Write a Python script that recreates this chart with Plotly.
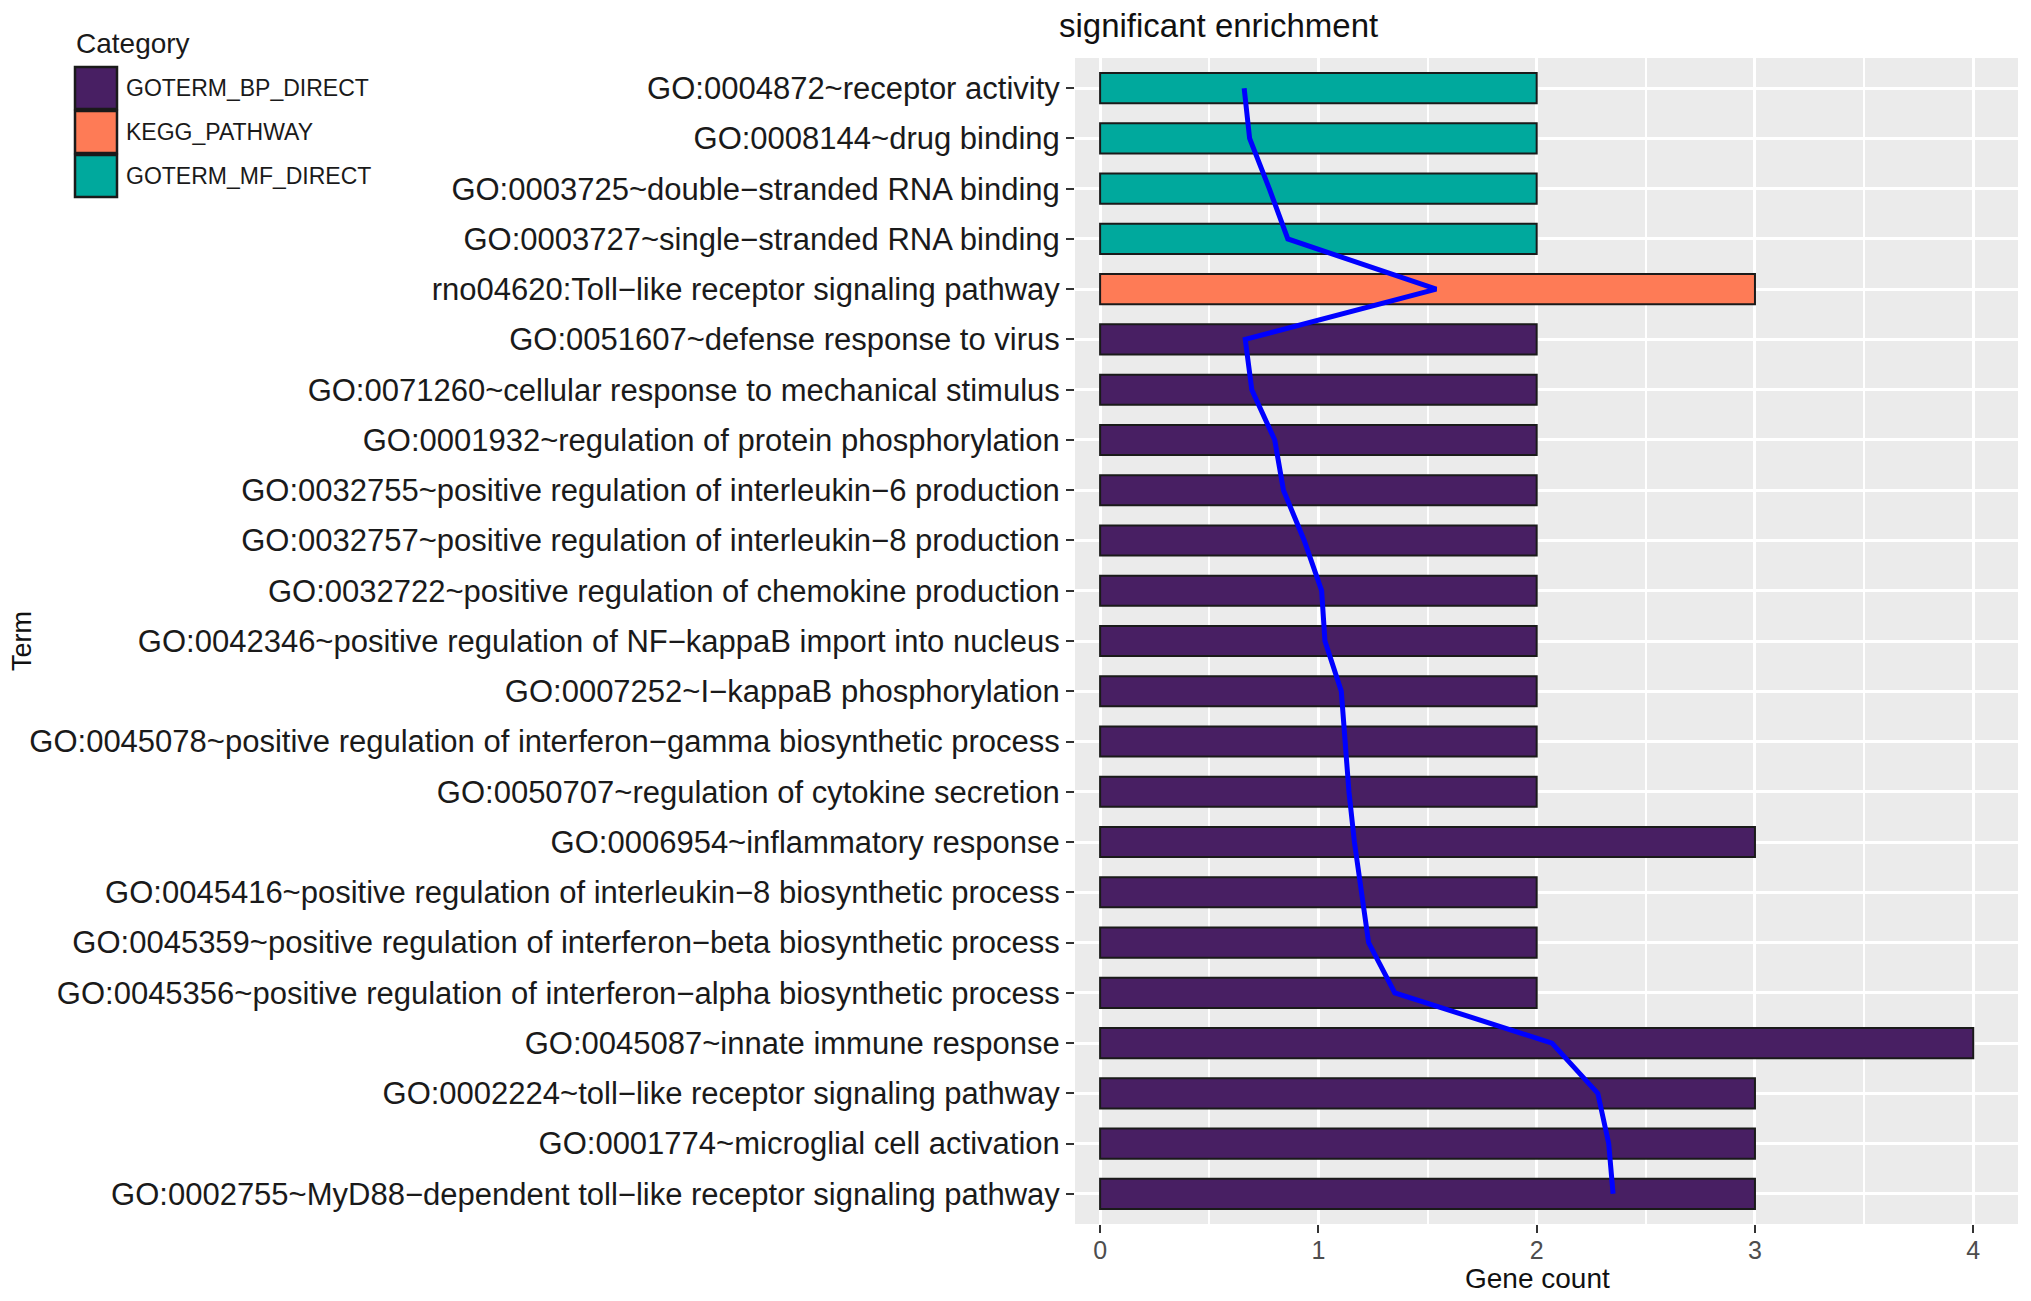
import plotly.graph_objects as go

# ---------------- data ----------------
terms = [
    "GO:0004872~receptor activity",
    "GO:0008144~drug binding",
    "GO:0003725~double−stranded RNA binding",
    "GO:0003727~single−stranded RNA binding",
    "rno04620:Toll−like receptor signaling pathway",
    "GO:0051607~defense response to virus",
    "GO:0071260~cellular response to mechanical stimulus",
    "GO:0001932~regulation of protein phosphorylation",
    "GO:0032755~positive regulation of interleukin−6 production",
    "GO:0032757~positive regulation of interleukin−8 production",
    "GO:0032722~positive regulation of chemokine production",
    "GO:0042346~positive regulation of NF−kappaB import into nucleus",
    "GO:0007252~I−kappaB phosphorylation",
    "GO:0045078~positive regulation of interferon−gamma biosynthetic process",
    "GO:0050707~regulation of cytokine secretion",
    "GO:0006954~inflammatory response",
    "GO:0045416~positive regulation of interleukin−8 biosynthetic process",
    "GO:0045359~positive regulation of interferon−beta biosynthetic process",
    "GO:0045356~positive regulation of interferon−alpha biosynthetic process",
    "GO:0045087~innate immune response",
    "GO:0002224~toll−like receptor signaling pathway",
    "GO:0001774~microglial cell activation",
    "GO:0002755~MyD88−dependent toll−like receptor signaling pathway",
]
categories = (["GOTERM_MF_DIRECT"] * 4 + ["KEGG_PATHWAY"] +
              ["GOTERM_BP_DIRECT"] * 18)
gene_count = [2, 2, 2, 2, 3, 2, 2, 2, 2, 2, 2, 2, 2, 2, 2, 3, 2, 2, 2, 4, 3, 3, 3]
line_values = [0.66, 0.685, 0.775, 0.86, 1.54, 0.665, 0.695, 0.80, 0.84, 0.935,
               1.015, 1.03, 1.105, 1.12, 1.14, 1.165, 1.195, 1.23, 1.35, 2.07,
               2.28, 2.33, 2.35]
legend_order = ["GOTERM_BP_DIRECT", "KEGG_PATHWAY", "GOTERM_MF_DIRECT"]
x_ticks = [0, 1, 2, 3, 4]

# ---------------- style ----------------
colors = {"GOTERM_BP_DIRECT": "#481F63",
          "KEGG_PATHWAY": "#FE7B56",
          "GOTERM_MF_DIRECT": "#00A99D"}
FONT = "Liberation Sans, Arial, Helvetica, sans-serif"
W, H = 2031, 1301
PL, PR, PT, PB = 1075, 2018, 58, 1224   # panel edges in pixels


def px(x):
    return (x - PL) / (PR - PL)


def py(y):
    return 1 - (y - PT) / (PB - PT)


fig = go.Figure()
fig.add_trace(go.Bar(
    x=gene_count, y=terms, orientation="h", width=0.6,
    marker=dict(color=[colors[c] for c in categories],
                line=dict(color="#1A1A1A", width=2)),
    showlegend=False,
))
fig.add_trace(go.Scatter(
    x=line_values, y=terms, mode="lines",
    line=dict(color="#0000FF", width=5), showlegend=False,
))

shapes = []
annotations = []
# legend (drawn manually to get ggplot-sized keys)
annotations.append(dict(text="Category", xref="paper", yref="paper",
                        x=px(74), y=py(44), xanchor="left", yanchor="middle",
                        showarrow=False, font=dict(family=FONT, size=28, color="#1A1A1A")))
for i, cat in enumerate(legend_order):
    top = 67 + i * 44
    shapes.append(dict(type="rect", xref="paper", yref="paper",
                       x0=px(75), x1=px(117), y0=py(top), y1=py(top + 42),
                       fillcolor=colors[cat], line=dict(color="#1A1A1A", width=2.5)))
    annotations.append(dict(text=cat, xref="paper", yref="paper",
                            x=px(124), y=py(top + 21), xanchor="left", yanchor="middle",
                            showarrow=False, font=dict(family=FONT, size=23, color="#1A1A1A")))

# title and axis titles
annotations.append(dict(text="significant enrichment", xref="paper", yref="paper",
                        x=px(1057), y=py(26), xanchor="left", yanchor="middle",
                        showarrow=False, font=dict(family=FONT, size=33, color="#111111")))
annotations.append(dict(text="Gene count", xref="paper", yref="paper",
                        x=px(1537), y=py(1278), xanchor="center", yanchor="middle",
                        showarrow=False, font=dict(family=FONT, size=28, color="#111111")))
annotations.append(dict(text="Term", xref="paper", yref="paper",
                        x=px(22), y=py(641), xanchor="center", yanchor="middle",
                        textangle=-90,
                        showarrow=False, font=dict(family=FONT, size=27, color="#111111")))

fig.update_layout(
    width=W, height=H,
    margin=dict(l=PL, r=W - PR, t=PT, b=H - PB, pad=0),
    paper_bgcolor="white", plot_bgcolor="#EBEBEB",
    font=dict(family=FONT),
    shapes=shapes, annotations=annotations,
    bargap=0.4,
)
fig.update_xaxes(
    range=[-0.115, 4.205], tickmode="array", tickvals=x_ticks,
    ticktext=[str(v) for v in x_ticks],
    ticks="outside", ticklen=8, tickwidth=2, tickcolor="#333333",
    ticklabelstandoff=-4,
    tickfont=dict(family=FONT, size=25, color="#4D4D4D"),
    showgrid=True, gridcolor="white", gridwidth=3,
    minor=dict(dtick=0.5, showgrid=True, gridcolor="white", gridwidth=1.5),
    zeroline=False, showline=False,
)
fig.update_yaxes(
    type="category", categoryorder="array", categoryarray=terms,
    range=[len(terms) - 0.4, -0.6],
    ticks="outside", ticklen=8, tickwidth=2, tickcolor="#333333",
    tickfont=dict(family=FONT, size=31, color="#1A1A1A"),
    showgrid=True, gridcolor="white", gridwidth=3,
    zeroline=False, showline=False,
)

fig.write_html(
    "out.html",
    config={"displayModeBar": False},
    post_script="document.body.style.margin='0';document.body.style.overflow='hidden';",
)
